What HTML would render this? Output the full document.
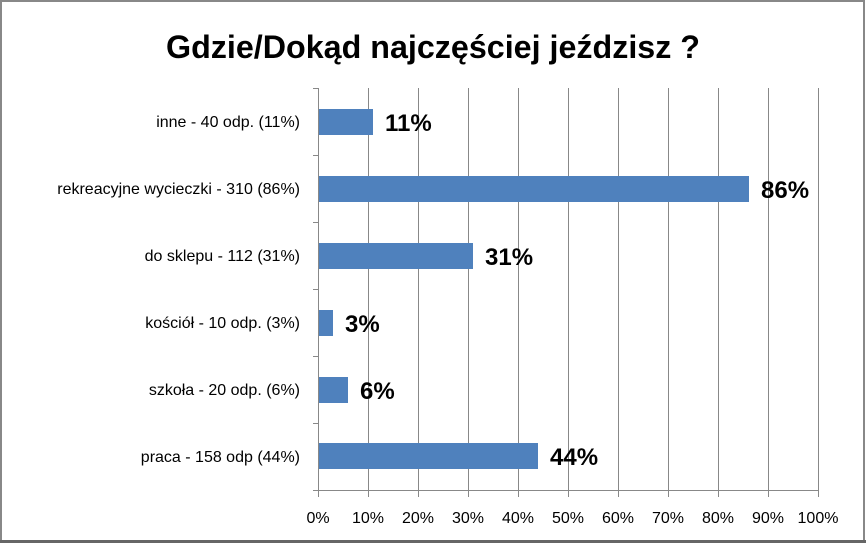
<!DOCTYPE html>
<html><head><meta charset="utf-8"><style>
body{margin:0;background:#fff}
svg{display:block;font-family:"Liberation Sans","DejaVu Sans",sans-serif}
</style></head><body>
<svg width="866" height="543" viewBox="0 0 866 543" xmlns="http://www.w3.org/2000/svg">
<rect x="0" y="0" width="866" height="543" fill="#fff"/>
<rect x="1" y="1" width="863" height="540" fill="none" stroke="#888" stroke-width="2"/>
<line x1="0" y1="541.5" x2="866" y2="541.5" stroke="#666" stroke-width="3"/>
<text x="433" y="58" text-anchor="middle" font-size="32" font-weight="bold" fill="#000" textLength="534" lengthAdjust="spacingAndGlyphs">Gdzie/Dokąd najczęściej jeździsz ?</text>
<g stroke="#888" stroke-width="1">
<line x1="368.5" y1="88" x2="368.5" y2="497"/>
<line x1="418.5" y1="88" x2="418.5" y2="497"/>
<line x1="468.5" y1="88" x2="468.5" y2="497"/>
<line x1="518.5" y1="88" x2="518.5" y2="497"/>
<line x1="568.5" y1="88" x2="568.5" y2="497"/>
<line x1="618.5" y1="88" x2="618.5" y2="497"/>
<line x1="668.5" y1="88" x2="668.5" y2="497"/>
<line x1="718.5" y1="88" x2="718.5" y2="497"/>
<line x1="768.5" y1="88" x2="768.5" y2="497"/>
<line x1="818.5" y1="88" x2="818.5" y2="497"/>
<line x1="318.5" y1="88" x2="318.5" y2="497"/>
<line x1="313" y1="490.5" x2="819" y2="490.5"/>
<line x1="313" y1="88.5" x2="318" y2="88.5"/>
<line x1="313" y1="155.5" x2="318" y2="155.5"/>
<line x1="313" y1="222.5" x2="318" y2="222.5"/>
<line x1="313" y1="289.5" x2="318" y2="289.5"/>
<line x1="313" y1="356.5" x2="318" y2="356.5"/>
<line x1="313" y1="423.5" x2="318" y2="423.5"/>
</g>
<g fill="#4f81bd">
<rect x="319" y="109" width="54" height="26"/>
<rect x="319" y="176" width="430" height="26"/>
<rect x="319" y="243" width="154" height="26"/>
<rect x="319" y="310" width="14" height="26"/>
<rect x="319" y="377" width="29" height="26"/>
<rect x="319" y="443" width="219" height="26"/>
</g>
<g font-size="24" font-weight="bold" fill="#000">
<text x="385" y="131">11%</text>
<text x="761" y="198">86%</text>
<text x="485" y="265">31%</text>
<text x="345" y="332">3%</text>
<text x="360" y="399">6%</text>
<text x="550" y="465">44%</text>
</g>
<g font-size="16" fill="#000" text-anchor="end">
<text x="300" y="127">inne - 40 odp. (11%)</text>
<text x="300" y="194">rekreacyjne wycieczki - 310 (86%)</text>
<text x="300" y="261">do sklepu - 112 (31%)</text>
<text x="300" y="328">kościół - 10 odp. (3%)</text>
<text x="300" y="395">szkoła - 20 odp. (6%)</text>
<text x="300" y="462">praca - 158 odp (44%)</text>
</g>
<g font-size="16" fill="#000" text-anchor="middle">
<text x="318" y="523">0%</text>
<text x="368" y="523">10%</text>
<text x="418" y="523">20%</text>
<text x="468" y="523">30%</text>
<text x="518" y="523">40%</text>
<text x="568" y="523">50%</text>
<text x="618" y="523">60%</text>
<text x="668" y="523">70%</text>
<text x="718" y="523">80%</text>
<text x="768" y="523">90%</text>
<text x="818" y="523">100%</text>
</g>
</svg>
</body></html>
